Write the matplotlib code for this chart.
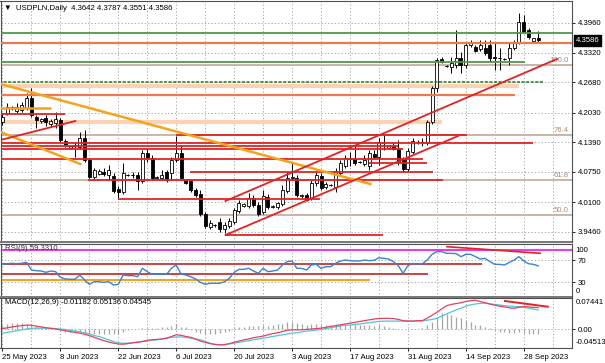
import numpy as np
import matplotlib.pyplot as plt
from matplotlib.lines import Line2D
from matplotlib.patches import Rectangle

plt.rcParams['font.family'] = ['Liberation Sans', 'DejaVu Sans']
FS = 5.6

# 日线数据 (含周日小K线)
dates = ['25 May 2023', '8 Jun 2023', '22 Jun 2023', '6 Jul 2023', '20 Jul 2023',
         '3 Aug 2023', '17 Aug 2023', '31 Aug 2023', '14 Sep 2023', '28 Sep 2023']
date_idx = [0, 12, 24, 36, 48, 60, 72, 84, 96, 108]

opens = [4.183, 4.202, 4.213, 4.206, 4.209, 4.213, 4.234, 4.194, 4.185, 4.191,
         4.178, 4.180, 4.187, 4.142, 4.127, 4.131, 4.129, 4.148, 4.101, 4.064,
         4.071, 4.075, 4.069, 4.066, 4.038, 4.032, 4.069, 4.068, 4.069, 4.056,
         4.116, 4.105, 4.062, 4.062, 4.075, 4.073, 4.101, 4.116, 4.058, 4.056,
         4.036, 4.028, 3.984, 3.956, 3.961, 3.967, 3.952, 3.959, 3.967, 3.991,
         4.002, 4.002, 4.019, 4.004, 3.989, 4.021, 3.999, 3.999, 4.006, 4.034,
         4.062, 4.062, 4.023, 4.025, 4.019, 4.051, 4.066, 4.043, 4.047, 4.043,
         4.073, 4.088, 4.103, 4.103, 4.097, 4.092, 4.088, 4.114, 4.107, 4.137,
         4.127, 4.131, 4.127, 4.101, 4.082, 4.118, 4.140, 4.140, 4.137, 4.183,
         4.256, 4.318, 4.303, 4.301, 4.305, 4.321, 4.305, 4.349, 4.344, 4.340,
         4.342, 4.349, 4.323, 4.321, 4.318, 4.321, 4.342, 4.355, 4.398, 4.381,
         4.357, 4.3642]
highs = [4.202, 4.224, 4.217, 4.224, 4.226, 4.245, 4.256, 4.198, 4.191, 4.198,
         4.189, 4.204, 4.191, 4.146, 4.133, 4.140, 4.161, 4.166, 4.105, 4.084,
         4.082, 4.084, 4.090, 4.073, 4.045, 4.094, 4.071, 4.075, 4.075, 4.122,
         4.127, 4.112, 4.066, 4.079, 4.079, 4.107, 4.153, 4.133, 4.060, 4.060,
         4.040, 4.036, 3.989, 3.971, 3.963, 3.976, 3.967, 3.976, 3.997, 4.015,
         4.008, 4.030, 4.025, 4.010, 4.036, 4.028, 4.004, 4.010, 4.047, 4.075,
         4.094, 4.069, 4.028, 4.030, 4.058, 4.075, 4.073, 4.053, 4.049, 4.084,
         4.101, 4.112, 4.118, 4.133, 4.099, 4.112, 4.122, 4.122, 4.148, 4.154,
         4.133, 4.140, 4.144, 4.107, 4.127, 4.148, 4.144, 4.148, 4.187, 4.260,
         4.321, 4.323, 4.306, 4.323, 4.381, 4.334, 4.355, 4.359, 4.349, 4.359,
         4.359, 4.359, 4.353, 4.342, 4.321, 4.355, 4.359, 4.418, 4.413, 4.385,
         4.364, 4.3787]
lows = [4.176, 4.198, 4.209, 4.202, 4.204, 4.209, 4.194, 4.170, 4.180, 4.174,
        4.172, 4.170, 4.140, 4.129, 4.125, 4.107, 4.125, 4.097, 4.062, 4.058,
        4.069, 4.066, 4.058, 4.030, 4.017, 4.028, 4.066, 4.062, 4.036, 4.051,
        4.097, 4.058, 4.058, 4.058, 4.053, 4.058, 4.097, 4.058, 4.049, 4.032,
        4.021, 3.980, 3.954, 3.952, 3.956, 3.946, 3.944, 3.954, 3.963, 3.987,
        3.999, 3.997, 3.999, 3.980, 3.984, 3.995, 3.997, 3.995, 4.002, 4.030,
        4.058, 4.021, 4.019, 4.013, 4.015, 4.045, 4.036, 4.038, 4.045, 4.032,
        4.066, 4.084, 4.088, 4.090, 4.094, 4.088, 4.079, 4.105, 4.090, 4.122,
        4.125, 4.122, 4.090, 4.075, 4.075, 4.114, 4.135, 4.131, 4.133, 4.178,
        4.247, 4.310, 4.301, 4.288, 4.299, 4.288, 4.299, 4.344, 4.333, 4.336,
        4.327, 4.312, 4.295, 4.295, 4.316, 4.305, 4.338, 4.351, 4.374, 4.362,
        4.355, 4.3551]
closes = [4.194, 4.215, 4.215, 4.215, 4.219, 4.234, 4.198, 4.187, 4.189, 4.183,
          4.185, 4.189, 4.144, 4.133, 4.131, 4.133, 4.148, 4.101, 4.064, 4.079,
          4.077, 4.071, 4.079, 4.034, 4.032, 4.073, 4.068, 4.069, 4.056, 4.116,
          4.105, 4.062, 4.064, 4.069, 4.058, 4.101, 4.116, 4.062, 4.051, 4.036,
          4.025, 3.984, 3.959, 3.965, 3.960, 3.952, 3.961, 3.969, 3.993, 4.008,
          4.006, 4.019, 4.004, 3.984, 4.023, 3.999, 4.002, 4.008, 4.036, 4.062,
          4.064, 4.025, 4.025, 4.015, 4.051, 4.069, 4.040, 4.049, 4.047, 4.077,
          4.094, 4.105, 4.103, 4.094, 4.096, 4.101, 4.116, 4.107, 4.140, 4.137,
          4.131, 4.125, 4.097, 4.082, 4.120, 4.142, 4.139, 4.139, 4.183, 4.256,
          4.316, 4.312, 4.303, 4.310, 4.321, 4.305, 4.349, 4.355, 4.336, 4.349,
          4.331, 4.321, 4.321, 4.320, 4.318, 4.342, 4.355, 4.398, 4.377, 4.366,
          4.364, 4.3586]

# RSI(9)
rsi = [62.2, 63.3, 64.0, 63.3, 64.0, 65.8, 51.8, 50.6, 50.0, 47.6,
       50.0, 48.8, 38.5, 35.5, 34.9, 34.9, 42.7, 33.6, 25.8, 30.6,
       30.6, 29.4, 30.6, 24.5, 25.8, 42.7, 41.5, 41.5, 39.7, 54.9,
       48.8, 44.0, 44.0, 44.6, 44.0, 54.9, 60.9, 44.6, 42.7, 39.7,
       35.5, 29.4, 25.8, 27.6, 27.6, 27.6, 30.6, 36.7, 47.6, 53.0,
       53.0, 54.9, 50.0, 45.8, 54.9, 48.8, 50.0, 51.8, 60.9, 67.0,
       68.2, 54.9, 54.8, 51.8, 60.9, 62.1, 54.8, 57.9, 57.9, 63.9,
       68.2, 70.0, 68.8, 68.2, 68.2, 70.0, 68.8, 69.4, 74.2, 73.0,
       71.8, 67.0, 59.7, 45.8, 59.7, 63.9, 62.7, 63.3, 70.0, 80.3,
       85.2, 85.2, 82.1, 82.1, 81.5, 76.1, 80.3, 80.3, 76.1, 71.8,
       73.0, 67.0, 62.1, 62.1, 60.9, 65.5, 70.0, 76.1, 68.2, 63.3,
       62.1, 59.331]

# MACD(12,26,9)
macd_main = [0.001, 0.003, 0.005, 0.007, 0.008, 0.0095, 0.009, 0.007, 0.005, 0.003,
             0.0016, 0.0, -0.002, -0.004, -0.0064, -0.008, -0.010, -0.0125, -0.016, -0.020,
             -0.024, -0.028, -0.031, -0.034, -0.036, -0.0365, -0.035, -0.033, -0.032, -0.030,
             -0.027, -0.026, -0.025, -0.024, -0.022, -0.018, -0.014, -0.015, -0.018, -0.020,
             -0.024, -0.029, -0.032, -0.035, -0.037, -0.038, -0.038, -0.035, -0.032, -0.029,
             -0.026, -0.024, -0.021, -0.019, -0.017, -0.014, -0.011, -0.009, -0.006, -0.003,
             -0.002, -0.002, -0.002, -0.001, 0.0, 0.001, 0.002, 0.004, 0.006, 0.008,
             0.010, 0.012, 0.014, 0.016, 0.018, 0.020, 0.022, 0.024, 0.025, 0.0256,
             0.0256, 0.025, 0.023, 0.020, 0.019, 0.019, 0.020, 0.020, 0.026, 0.033,
             0.040, 0.048, 0.056, 0.059, 0.061, 0.063, 0.066, 0.068, 0.069, 0.066,
             0.063, 0.060, 0.057, 0.055, 0.053, 0.051, 0.0496, 0.052, 0.054, 0.053,
             0.052, 0.05136]
macd_signal = [-0.010, -0.008, -0.006, -0.004, -0.002, 0.0, 0.0016, 0.002, 0.002, 0.002,
               0.0016, 0.001, 0.0, -0.001, -0.003, -0.005, -0.0064, -0.009, -0.012, -0.016,
               -0.018, -0.022, -0.026, -0.030, -0.033, -0.0344, -0.034, -0.033, -0.031, -0.030,
               -0.029, -0.027, -0.026, -0.024, -0.022, -0.020, -0.019, -0.019, -0.020, -0.022,
               -0.024, -0.026, -0.030, -0.034, -0.037, -0.038, -0.037, -0.036, -0.034, -0.032,
               -0.030, -0.028, -0.026, -0.024, -0.022, -0.020, -0.018, -0.016, -0.014, -0.012,
               -0.010, -0.009, -0.007, -0.005, -0.004, -0.0024, -0.001, 0.001, 0.003, 0.005,
               0.007, 0.009, 0.0096, 0.011, 0.012, 0.014, 0.015, 0.017, 0.018, 0.019,
               0.019, 0.019, 0.019, 0.019, 0.019, 0.019, 0.019, 0.0195, 0.021, 0.023,
               0.0256, 0.031, 0.036, 0.041, 0.046, 0.050, 0.055, 0.058, 0.060, 0.0616,
               0.062, 0.060, 0.059, 0.0576, 0.056, 0.055, 0.054, 0.0536, 0.052, 0.050,
               0.048, 0.04545]
macd_hist = [0.010, 0.012, 0.014, 0.015, 0.014, 0.012, 0.010, 0.007, 0.005, 0.004,
             0.002, 0.001, -0.004, -0.006, -0.008, -0.008, -0.007, -0.010, -0.012, -0.012,
             -0.012, -0.012, -0.011, -0.013, -0.012, -0.006, -0.003, 0.0, 0.001, 0.003,
             0.003, 0.002, 0.003, 0.004, 0.005, 0.008, 0.012, 0.006, 0.004, -0.002,
             -0.006, -0.010, -0.012, -0.012, -0.011, -0.010, -0.008, -0.004, 0.002, 0.005,
             0.006, 0.008, 0.008, 0.007, 0.010, 0.008, 0.009, 0.011, 0.013, 0.016,
             0.017, 0.014, 0.012, 0.010, 0.011, 0.011, 0.009, 0.010, 0.010, 0.011,
             0.012, 0.013, 0.012, 0.011, 0.010, 0.010, 0.009, 0.008, 0.009, 0.007,
             0.005, 0.003, 0.001, -0.001, 0.0, 0.001, 0.001, 0.002, 0.010, 0.016,
             0.030, 0.038, 0.036, 0.034, 0.030, 0.026, 0.022, 0.016, 0.010, 0.0085,
             0.005, 0.002, -0.003, -0.006, -0.008, -0.010, -0.009, -0.008, -0.010, -0.011,
             -0.011, -0.01182]

price_ticks = [4.3960, 4.3320, 4.2680, 4.2030, 4.1390, 4.0750, 4.0100, 3.9460]

# 水平线: (价格, 起始K线, 结束K线)
green_levels = [(4.3738, -1, 119), (4.3109, -1, 108.3)]
green_dash_levels = [(4.2689, -1, 112.2)]
coral_levels = [(4.3536, -1, 119), (4.2415, -1, 106.2)]
peach_levels = [(4.2613, -1, 107), (4.1833, -1, 91.1)]
orange_levels = [(4.2129, -1, 10.1)]
red_levels = [(4.1993, -1, 13), (4.1536, 36, 96.3), (4.1368, -1, 110),
              (4.1310, -1, 82), (4.1245, -1, 83), (4.1030, -1, 87.2),
              (4.0943, 76, 88), (4.0749, 38.9, 89.2), (4.0577, 17.8, 91.3),
              (4.0168, 24, 65.8), (3.9392, 46.2, 78.9)]
fib_names = ['100.0', '76.4', '61.8', '50.0']
fib_prices = [4.3055, 4.1536, 4.0577, 3.9823]

# 趋势线: ((K线, 价格), (K线, 价格))
orange_trends = [((-0.41, 4.2646), (76.2, 4.0491)), ((-0.41, 4.1611), (16.1, 4.0922))]
red_trends = [((-0.41, 4.1439), (15.1, 4.1848)), ((46.2, 4.0124), (114.9, 4.3185)),
              ((46.2, 3.9392), (94.4, 4.1525))]

# RSI 窗口里的线
rsi_magenta = 88.5
rsi_red_levels = [(63.6, -1, 99.4), (44.5, -1, 88.2)]
rsi_orange_levels = [(33.6, -1, 76.2)]
rsi_trend = ((92.1, 94.2), (111.4, 82.2))
macd_trend = ((104.1, 0.0672), (113.0, 0.0535))

W, H = 605, 363
fig = plt.figure(figsize=(W / 100, H / 100), dpi=100)
fig.patch.set_facecolor('white')

def frame(y0, y1):
    return [0.5 / W, 1 - y1 / H, 571.5 / W, (y1 - y0) / H]

ax_p = fig.add_axes(frame(1, 242))
ax_r = fig.add_axes(frame(243.5, 296.5))
ax_m = fig.add_axes(frame(298, 348))

n = len(closes)
x = np.arange(n)
xlim = (-0.414, 118.0)
grid_kw = dict(color='#9a9a9a', lw=0.6, ls=(0, (1.5, 2.5)))

for ax in (ax_p, ax_r, ax_m):
    ax.set_xlim(*xlim)
    for b in range(0, 119, 6):
        ax.axvline(b, zorder=0, **grid_kw)
    for s in ax.spines.values():
        s.set_color('#505050')
        s.set_linewidth(0.8)
    ax.yaxis.tick_right()
    ax.tick_params(axis='y', labelsize=FS, length=2.5, width=0.6, pad=1.5, colors='black')
    ax.set_xticks([])

# ---- 主图 ----
ax_p.set_ylim(3.9241, 4.4434)
ax_p.set_yticks(price_ticks)
ax_p.set_yticklabels(['%.4f' % v for v in price_ticks])
for v in price_ticks:
    ax_p.axhline(v, zorder=0, **grid_kw)

for p, a, b in peach_levels:
    ax_p.hlines(p, a, b, color='#fbd3b4', lw=3.0, zorder=1)
for nm, p in zip(fib_names, fib_prices):
    ax_p.hlines(p, -1, 119, color='#c9b6a8', lw=1.4, zorder=1)
    ax_p.text(117.4, p + 0.003, nm, fontsize=FS, color='#b08a74', ha='right', va='bottom')

# K线
up = np.array(closes) >= np.array(opens)
ax_p.vlines(x, lows, highs, color='black', lw=0.7, zorder=2)
body_lo = np.minimum(opens, closes)
body_h = np.abs(np.array(closes) - np.array(opens))
ax_p.bar(x, body_h, bottom=body_lo, width=0.62,
         color=np.where(up, 'white', 'black'), edgecolor='black', lw=0.6, zorder=3)
flat = body_h < 0.0012
ax_p.hlines(np.array(closes)[flat], x[flat] - 0.31, x[flat] + 0.31, color='black', lw=0.8, zorder=3)

for p, a, b in green_levels:
    ax_p.hlines(p, a, b, color='#4c9a4c', lw=1.3, zorder=4)
for p, a, b in green_dash_levels:
    ax_p.hlines(p, a, b, color='#1f7a1f', lw=1.1, ls=(0, (2, 1)), zorder=4)
for p, a, b in coral_levels:
    ax_p.hlines(p, a, b, color='#ec7a4e', lw=1.6, zorder=4)
for p, a, b in orange_levels:
    ax_p.hlines(p, a, b, color='#f2a31f', lw=1.8, zorder=4)
for p, a, b in red_levels:
    ax_p.hlines(p, a, b, color='#e02424', lw=1.3, zorder=4)
for (x0, y0), (x1, y1) in orange_trends:
    ax_p.plot([x0, x1], [y0, y1], color='#f2a31f', lw=1.8, zorder=4)
for (x0, y0), (x1, y1) in red_trends:
    ax_p.plot([x0, x1], [y0, y1], color='#e02424', lw=1.3, zorder=4)

ax_p.text(0.006, 0.985, '\u25bc  USDPLN,Daily  %.4f %.4f %.4f %.4f' % (opens[-1], highs[-1], lows[-1], closes[-1]),
          transform=ax_p.transAxes, fontsize=FS, va='top', ha='left')
ax_p.annotate('%.4f' % closes[-1], xy=(1.0, closes[-1]), xycoords=('axes fraction', 'data'),
              xytext=(2.5, 0), textcoords='offset points', fontsize=FS, color='white',
              va='center', ha='left', bbox=dict(boxstyle='square,pad=0.25', fc='black', ec='black'))

# ---- RSI ----
ax_r.set_ylim(3.64, 100)
ax_r.set_yticks([70, 30])
ax_r.set_yticklabels(['70', '30'])
for lv in (70, 30):
    ax_r.axhline(lv, zorder=0, **grid_kw)
ax_r.text(1.006, 0.877, '100', transform=ax_r.transAxes, fontsize=FS, va='center')
ax_r.text(1.006, 0.085, '0', transform=ax_r.transAxes, fontsize=FS, va='center')
ax_r.axhline(rsi_magenta, color='#e63ee6', lw=1.5, zorder=2)
for v, a, b in rsi_red_levels:
    ax_r.hlines(v, a, b, color='#c94444', lw=1.4, zorder=2)
for v, a, b in rsi_orange_levels:
    ax_r.hlines(v, a, b, color='#f2a31f', lw=1.4, zorder=2)
ax_r.plot(x, rsi, color='#3a82d2', lw=1.0, zorder=3)
(x0, y0), (x1, y1) = rsi_trend
ax_r.plot([x0, x1], [y0, y1], color='#e02424', lw=1.2, zorder=4)
ax_r.text(0.008, 0.9, 'RSI(9) %.4f' % rsi[-1], transform=ax_r.transAxes, fontsize=FS, va='center',
          color='#333333')

# ---- MACD ----
ax_m.set_ylim(-0.0456, 0.0744)
ax_m.set_yticks([0])
ax_m.set_yticklabels(['0.00'])
ax_m.axhline(0, zorder=0, **grid_kw)
ax_m.text(1.006, 0.9, '0.07441', transform=ax_m.transAxes, fontsize=FS, va='center')
ax_m.text(1.006, 0.1, '-0.04513', transform=ax_m.transAxes, fontsize=FS, va='center')
ax_m.vlines(x, 0, macd_hist, color='#a5a5a5', lw=0.9, zorder=2)
ax_m.plot(x, macd_signal, color='#52c6d6', lw=0.9, zorder=3)
ax_m.plot(x, macd_main, color='#e8405a', lw=0.9, zorder=3)
(x0, y0), (x1, y1) = macd_trend
ax_m.plot([x0, x1], [y0, y1], color='#e02424', lw=1.4, zorder=4)
ax_m.text(0.008, 0.9, 'MACD(12,26,9) %.5f %.5f %.5f' % (macd_hist[-1], macd_main[-1], macd_signal[-1]),
          transform=ax_m.transAxes, fontsize=FS, va='center')

ax_m.set_xticks(date_idx)
ax_m.set_xticklabels(dates)
ax_m.tick_params(axis='x', labelsize=FS, length=2.5, width=0.6, pad=1.5)
for lbl in ax_m.get_xticklabels():
    lbl.set_ha('left')

# 子窗口分隔条
for yy in (242.2, 297.2):
    fig.add_artist(Rectangle((0, 1 - (yy + 1.2) / H), 572 / W, 2.4 / H, transform=fig.transFigure,
                             fc='#7a7a7a', ec='none'))

fig.savefig('out.png', dpi=100, facecolor='white')
